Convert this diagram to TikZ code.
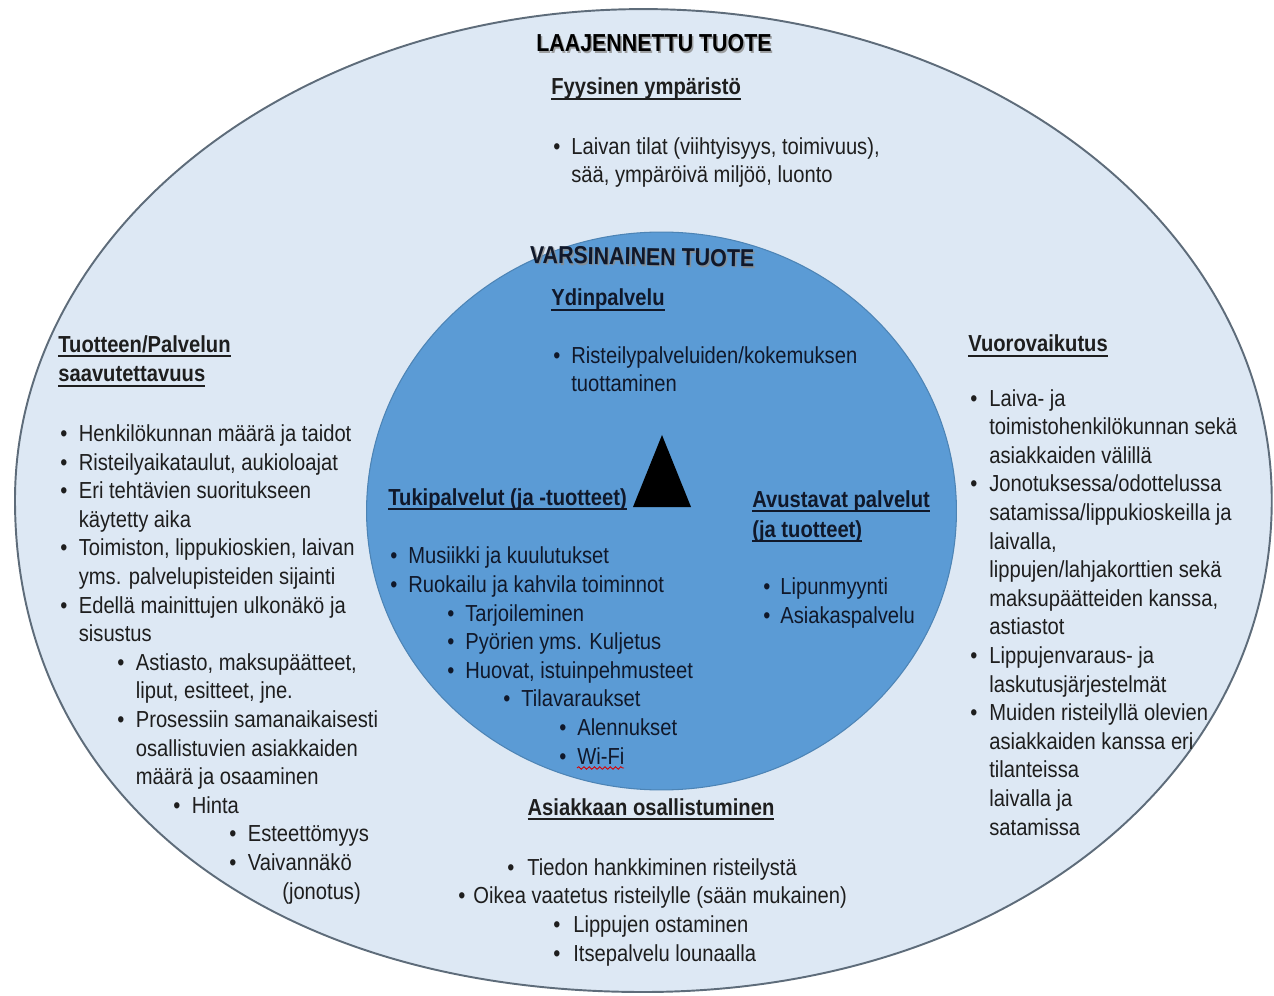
\documentclass[tikz,border=0pt]{standalone}
\usepackage{fontspec}
\setmainfont[FakeStretch=0.87]{Liberation Sans}
\usetikzlibrary{positioning,decorations.pathmorphing}
\definecolor{outerfill}{HTML}{DDE8F4}
\definecolor{innerfill}{HTML}{5B9BD5}
\definecolor{rimline}{HTML}{5E6C7A}
\definecolor{bodytext}{HTML}{1E1E1E}
\definecolor{innertext}{HTML}{10182A}
\newcommand{\bu}[1][0.37cm]{\makebox[#1][l]{\textbullet}}
\newcommand{\ind}[1]{\hspace*{#1}}
\newcommand{\hdl}[1]{\setbox0\hbox{#1}\rlap{\rule[-2.6pt]{\wd0}{0.9pt}}\box0}

\begin{document}
\begin{tikzpicture}[x=0.02cm, y=-0.02cm,
	body/.style={font=\fontsize{13.2}{16.27}\selectfont, text=bodytext, align=left, anchor=base west, inner sep=0pt},
	inbody/.style={body, text=innertext},
	head/.style={body, font=\fontsize{13.2}{17}\selectfont\bfseries},
	inhead/.style={head, text=innertext},
	title/.style={font=\fontsize{14}{16}\selectfont\bfseries, inner sep=0pt, anchor=base},
	shade/.style={title, text=black!45, opacity=0.8}]
	\useasboundingbox (0,0) rectangle (1274,996);
	\filldraw[fill=outerfill, draw=rimline, line width=1.1pt] (15,500) arc[start angle=180, end angle=0, x radius=12.57cm, y radius=9.82cm]
		.. controls (1272,781) and (1001.5,992) .. (643.5,992)
		.. controls (266.5,992) and (15,796) .. (15,500) -- cycle;
	\filldraw[fill=innerfill, draw=innerfill!85!black, line width=0.6pt] (661.5,511) ellipse [x radius=5.9cm, y radius=5.58cm];
	
	% outer ring (nodes sit on the baseline of their last line)
	\node[shade] (laajsh) at (655.5,53.5) {LAAJENNETTU TUOTE};
	\node[title] (laaj) at (654,52) {LAAJENNETTU TUOTE};
	\node[head] (fyys) at (551,95) {\hdl{Fyysinen ympäristö}};
	\node[body] (fyyslist) at (553,183) {\bu[0.36cm]Laivan tilat (viihtyisyys, toimivuus),\\
		\ind{0.36cm}sää, ympäröivä miljöö, luonto};
	
	\node[head] (saav) at (58,382) {\hdl{Tuotteen/Palvelun}\\\hdl{saavutettavuus}};
	\node[body] (saavlist) at (60,899) {\bu Henkilökunnan määrä ja taidot\\
		\bu Risteilyaikataulut, aukioloajat\\
		\bu Eri tehtävien suoritukseen\\
		\ind{0.37cm}käytetty aika\\
		\bu Toimiston, lippukioskien, laivan\\
		\ind{0.37cm}yms. palvelupisteiden sijainti\\
		\bu Edellä mainittujen ulkonäkö ja\\
		\ind{0.37cm}sisustus\\
		\ind{1.14cm}\bu Astiasto, maksupäätteet,\\
		\ind{1.51cm}liput, esitteet, jne.\\
		\ind{1.14cm}\bu Prosessiin samanaikaisesti\\
		\ind{1.51cm}osallistuvien asiakkaiden\\
		\ind{1.51cm}määrä ja osaaminen\\
		\ind{2.26cm}\bu Hinta\\
		\ind{3.38cm}\bu Esteettömyys\\
		\ind{3.38cm}\bu Vaivannäkö\\
		\ind{4.44cm}(jonotus)};
	
	\node[head] (vuoro) at (968,352) {\hdl{Vuorovaikutus}};
	\node[body] (vuorolist) at (970,835) {\bu[0.38cm]Laiva- ja\\
		\ind{0.38cm}toimistohenkilökunnan sekä\\
		\ind{0.38cm}asiakkaiden välillä\\
		\bu[0.38cm]Jonotuksessa/odottelussa\\
		\ind{0.38cm}satamissa/lippukioskeilla ja\\
		\ind{0.38cm}laivalla,\\
		\ind{0.38cm}lippujen/lahjakorttien sekä\\
		\ind{0.38cm}maksupäätteiden kanssa,\\
		\ind{0.38cm}astiastot\\
		\bu[0.38cm]Lippujenvaraus- ja\\
		\ind{0.38cm}laskutusjärjestelmät\\
		\bu[0.38cm]Muiden risteilyllä olevien\\
		\ind{0.38cm}asiakkaiden kanssa eri\\
		\ind{0.38cm}tilanteissa\\
		\ind{0.38cm}laivalla ja\\
		\ind{0.38cm}satamissa};
	
	\node[head, anchor=base] (osall) at (651,815) {\hdl{Asiakkaan osallistuminen}};
	\node[body] (osallist) at (458,961) {\ind{0.98cm}\bu[0.4cm]Tiedon hankkiminen risteilystä\\
		\bu[0.3cm]Oikea vaatetus risteilylle (sään mukainen)\\
		\ind{1.9cm}\bu[0.4cm]Lippujen ostaminen\\
		\ind{1.9cm}\bu[0.4cm]Itsepalvelu lounaalla};
	
	% inner circle
	\node[shade, rotate=-1] (varssh) at (643.5,266.5) {VARSINAINEN TUOTE};
	\node[title, text=innertext, rotate=-1] (vars) at (642,265) {VARSINAINEN TUOTE};
	\node[inhead] (ydin) at (551,306) {\hdl{Ydinpalvelu}};
	\node[inbody] (ydinlist) at (553,392) {\bu[0.36cm]Risteilypalveluiden/kokemuksen\\
		\ind{0.36cm}tuottaminen};
	
	\fill (662,435) -- (633,507) -- (691,507) -- cycle;
	
	\node[inhead] (tuki) at (388,505) {\hdl{Tukipalvelut (ja -tuotteet)}};
	\node[inbody] (tukilist) at (390,764) {\bu[0.36cm]Musiikki ja kuulutukset\\
		\bu[0.36cm]Ruokailu ja kahvila toiminnot\\
		\ind{1.14cm}\bu[0.36cm]Tarjoileminen\\
		\ind{1.14cm}\bu[0.36cm]Pyörien yms. Kuljetus\\
		\ind{1.14cm}\bu[0.36cm]Huovat, istuinpehmusteet\\
		\ind{2.26cm}\bu[0.36cm]Tilavaraukset\\
		\ind{3.38cm}\bu[0.36cm]Alennukset\\
		\ind{3.38cm}\bu[0.36cm]Wi-Fi};
	\draw[red!85!black, line width=0.5pt, decorate, decoration={snake, segment length=3pt, amplitude=0.7pt}] (577,768) -- (624,768);
	
	\node[inhead] (avust) at (752,537) {\hdl{Avustavat palvelut}\\\hdl{(ja tuotteet)}};
	\node[inbody] (avustlist) at (763,623) {\bu[0.34cm]Lipunmyynti\\
		\bu[0.34cm]Asiakaspalvelu};
\end{tikzpicture}
\end{document}
